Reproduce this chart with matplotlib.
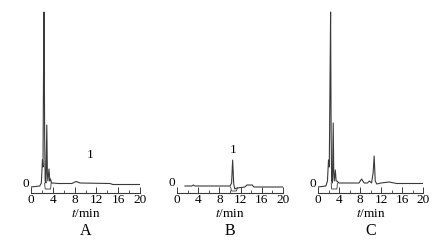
import matplotlib
matplotlib.use("Agg")
import matplotlib.pyplot as plt
from matplotlib.ticker import MultipleLocator

plt.rcParams['font.family'] = ['Liberation Serif', 'DejaVu Serif']
plt.rcParams['mathtext.fontset'] = 'stix'

# chromatogram key points (time in min, signal in arbitrary units)
t_a = [0, 1.6, 1.9, 2.1, 2.2, 2.3, 2.4, 2.5, 2.6, 2.75, 2.9, 3.0, 3.1, 3.3, 3.45, 3.6, 3.75, 4.0, 5, 7.5, 8.3, 9, 14.5, 15, 20]
y_a = [6, 7, 10, 33, 26, 120, 181, 60, 12, 10, 68, 20, 12, 24, 12, 14, 10, 10, 9.5, 9.5, 11.5, 10, 9.5, 8.5, 8.5]
t_a_base = [2.5, 2.6, 3.6, 3.7]
y_a_base = [10, 4, 4, 10]

t_b = [1.5, 2.8, 3.1, 3.4, 10.0, 10.3, 10.5, 10.7, 10.9, 11.3, 12.8, 13.2, 14.2, 14.5, 20]
y_b = [7, 7, 8, 7, 7, 10, 33, 9, 4, 5, 6, 8, 8, 6, 6]
t_b_base = [10.1, 10.3, 11.2, 11.4]
y_b_base = [6, 2, 2, 5]

t_c = [0, 1.5, 1.8, 2.0, 2.15, 2.3, 2.4, 2.5, 2.6, 2.75, 2.9, 3.0, 3.1, 3.3, 3.45, 3.6, 4.0, 5, 7.8, 8.3, 8.8, 9.4, 9.8, 10.2, 10.5, 10.7, 10.9, 11.2, 12, 13.5, 15, 20]
y_c = [6, 7, 12, 33, 26, 120, 181, 60, 12, 10, 70, 20, 12, 23, 12, 12, 10, 10, 10, 14, 10, 10, 12, 10, 20, 37, 12, 9, 10, 11, 9.5, 9.5]
t_c_base = [2.5, 2.6, 3.6, 3.7]
y_c_base = [10, 4, 4, 10]

panels = [
    ("A", t_a, y_a, t_a_base, y_a_base, (10.8, 38)),
    ("B", t_b, y_b, t_b_base, y_b_base, (10.6, 43)),
    ("C", t_c, y_c, t_c_base, y_c_base, None),
]
lefts = [31 / 443, 177 / 443, 318 / 443]
widths = [109 / 443, 106 / 443, 105 / 443]

fig = plt.figure(figsize=(4.43, 2.43), dpi=100)
line_col = "#3a3a3a"
for (name, t, y, tb, yb, lab1), left, w in zip(panels, lefts, widths):
    ax = fig.add_axes([left, 1 - 193 / 243, w, 183 / 243])
    ax.plot(t, y, color=line_col, lw=0.8)
    ax.plot(tb, yb, color=line_col, lw=0.6)
    ax.set_xlim(0, 20)
    ax.set_ylim(0, 183)
    for s in ["top", "right", "left"]:
        ax.spines[s].set_visible(False)
    ax.spines["bottom"].set_color(line_col)
    ax.spines["bottom"].set_linewidth(0.8)
    ax.set_yticks([])
    ax.xaxis.set_major_locator(MultipleLocator(4))
    ax.xaxis.set_minor_locator(MultipleLocator(2))
    ax.tick_params(axis="x", which="major", direction="in", length=4, width=0.7,
                   color=line_col, pad=1, labelsize=9.5)
    ax.tick_params(axis="x", which="minor", direction="in", length=2, width=0.6,
                   color=line_col)
    ax.set_xlabel(r"$t$/min", fontsize=9.5, labelpad=1)
    ax.text(-0.4, y[0] + 3, "0", ha="right", va="center", fontsize=9.5, clip_on=False)
    if lab1 is not None:
        ax.text(lab1[0], lab1[1], "1", ha="center", va="center", fontsize=9.5)
    ax.text(10, -38 / 183, name, transform=ax.get_xaxis_transform(), ha="center",
            va="center", fontsize=11.5)

fig.savefig("out.png", dpi=100)
